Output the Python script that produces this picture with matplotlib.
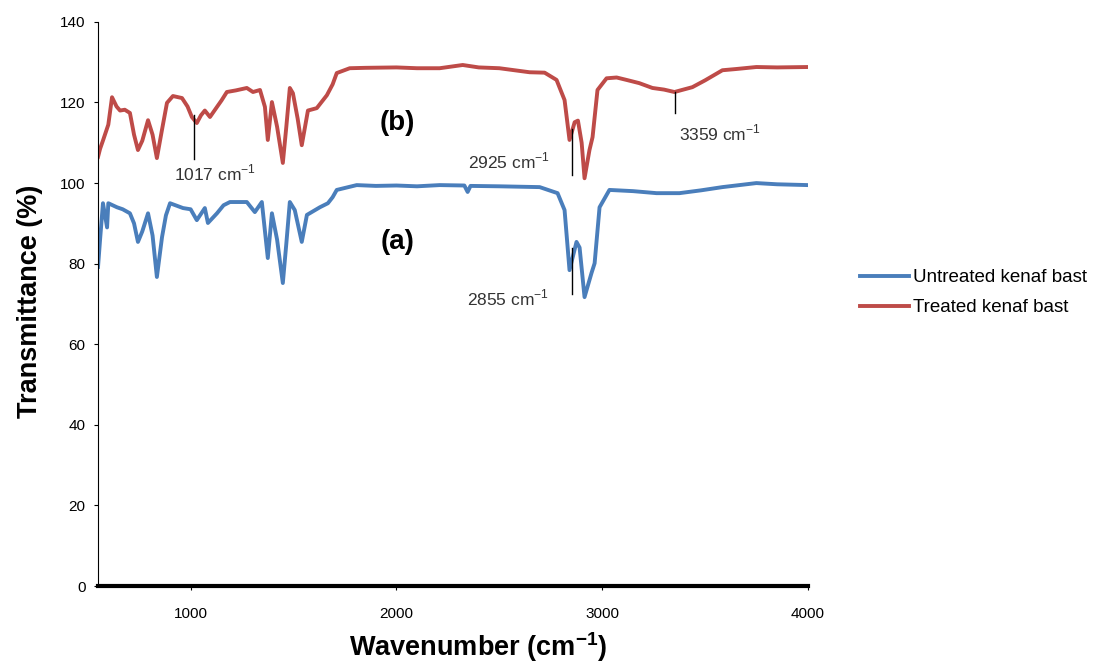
import numpy as np
import matplotlib
matplotlib.use('Agg')
import matplotlib.pyplot as plt

plt.rcParams['font.family'] = ['Liberation Sans', 'DejaVu Sans']

# treated kenaf bast (b)
wn_treated = [550, 560, 575, 600, 618, 640, 657, 680, 705, 725, 744, 765, 793, 815, 836, 860,
              885, 914, 958, 985, 1006, 1030, 1050, 1069, 1094, 1128, 1150, 1176, 1220, 1273,
              1303, 1337, 1361, 1375, 1395, 1420, 1448, 1465, 1482, 1497, 1520, 1540, 1570,
              1613, 1662, 1690, 1710, 1773, 1850, 2000, 2100, 2210, 2322, 2400, 2500, 2647,
              2720, 2778, 2817, 2841, 2866, 2882, 2900, 2914, 2938, 2953, 2977, 3021, 3070,
              3118, 3180, 3244, 3300, 3351, 3438, 3500, 3584, 3650, 3749, 3850, 4000]
tr_treated = [106.5, 108.5, 110.7, 114.5, 121.3, 119.0, 118.0, 118.2, 117.4, 112.0, 108.2, 110.5,
              115.6, 112.0, 106.2, 113.0, 119.9, 121.6, 121.1, 119.0, 116.4, 114.9, 116.8, 118.0,
              116.4, 118.9, 120.5, 122.6, 123.0, 123.6, 122.6, 123.1, 118.9, 110.7, 120.1, 114.0,
              105.0, 114.0, 123.6, 122.3, 116.0, 109.4, 118.0, 118.6, 121.8, 124.5, 127.3, 128.5,
              128.6, 128.7, 128.5, 128.5, 129.3, 128.7, 128.5, 127.5, 127.4, 125.6, 120.6, 110.7,
              115.1, 115.5, 110.0, 101.2, 108.2, 111.4, 123.1, 126.0, 126.2, 125.6, 124.8, 123.6,
              123.2, 122.6, 123.8, 125.5, 128.0, 128.3, 128.8, 128.7, 128.8]

# untreated kenaf bast (a)
wn_untreated = [550, 560, 574, 594, 600, 642, 670, 705, 725, 744, 765, 793, 815, 836, 861, 880,
                900, 963, 1000, 1030, 1069, 1084, 1128, 1160, 1191, 1273, 1312, 1346, 1375, 1395,
                1420, 1448, 1465, 1482, 1506, 1540, 1565, 1628, 1667, 1690, 1710, 1807, 1900,
                2000, 2100, 2210, 2330, 2346, 2360, 2500, 2696, 2783, 2817, 2841, 2875, 2890,
                2914, 2948, 2963, 2987, 3035, 3150, 3264, 3375, 3480, 3584, 3749, 3850, 4000]
tr_untreated = [79.2, 86.0, 95.0, 89.0, 95.0, 94.0, 93.5, 92.5, 90.0, 85.4, 88.0, 92.5, 87.0, 76.7,
                86.6, 92.0, 95.0, 93.8, 93.5, 90.8, 93.8, 90.1, 92.5, 94.5, 95.3, 95.3, 92.8, 95.3,
                81.4, 92.5, 86.0, 75.2, 85.0, 95.3, 93.3, 85.4, 92.1, 94.0, 95.0, 96.5, 98.3, 99.5,
                99.3, 99.4, 99.2, 99.5, 99.4, 97.8, 99.3, 99.2, 99.0, 97.5, 93.3, 78.4, 85.4, 84.0,
                71.7, 77.7, 80.1, 94.0, 98.3, 98.0, 97.5, 97.5, 98.2, 99.0, 100.0, 99.7, 99.5]

# peak labels: (line x, y top, y bottom, text x, text y, text)
cm = r' cm$^{\mathregular{-1}}$'
peaks = [(1017, 117.0, 106.0, 920, 102.5, '1017' + cm),
         (2851, 113.5, 102.0, 2350, 105.5, '2925' + cm),
         (3356, 122.6, 117.5, 3375, 112.5, '3359' + cm),
         (2851, 84.0, 72.5, 2345, 71.5, '2855' + cm)]

fig = plt.figure(figsize=(11.19, 6.63), dpi=100)
ax = fig.add_axes([0.0876, 0.116, 0.6345, 0.851])

ax.plot(wn_untreated, tr_untreated, color='#4a7ebb', lw=2.8, label='Untreated kenaf bast')
ax.plot(wn_treated, tr_treated, color='#be4b48', lw=2.8, label='Treated kenaf bast')

for lx, y1, y2, tx, ty, txt in peaks:
    ax.plot([lx, lx], [y1, y2], color='black', lw=1)
    ax.text(tx, ty, txt, fontsize=12.5, color='#333333', ha='left', va='center')

ax.text(2006, 115, '(b)', fontsize=20, fontweight='bold', ha='center', va='center')
ax.text(2006, 85.5, '(a)', fontsize=20, fontweight='bold', ha='center', va='center')

ax.set_xlim(550, 4000)
ax.set_ylim(0, 140)
ax.set_xticks([1000, 2000, 3000, 4000])
ax.set_yticks(np.arange(0, 141, 20))
ax.tick_params(axis='both', labelsize=11, length=3, width=0.8)
ax.tick_params(axis='x', pad=12)
ax.tick_params(axis='y', pad=6)
for s in ['top', 'right']:
    ax.spines[s].set_visible(False)
ax.spines['bottom'].set_linewidth(3)
ax.spines['left'].set_linewidth(0.8)

ax.set_xlabel(r'Wavenumber (cm$^{\mathregular{-1}}$)', fontsize=19.5, fontweight='bold', va='center')
ax.xaxis.set_label_coords(0.535, -0.108)
ax.set_ylabel('Transmittance (%)', fontsize=19.5, fontweight='bold', va='center')
ax.yaxis.set_label_coords(-0.096, 0.504)

ax.legend(loc='center left', bbox_to_anchor=(1.05, 0.52), frameon=False, fontsize=13.5,
          handlelength=2.6, handletextpad=0.2, labelspacing=0.7)

fig.savefig('out.png', dpi=100)
